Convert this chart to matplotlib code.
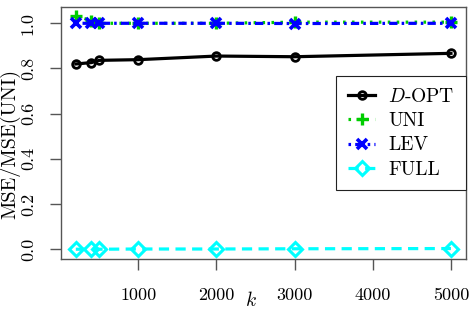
import matplotlib
matplotlib.use("Agg")
import matplotlib.pyplot as plt

k = [200, 400, 500, 1000, 2000, 3000, 5000]
dopt = [0.820, 0.826, 0.836, 0.839, 0.855, 0.852, 0.867]
uni = [1.032, 1.012, 1.0, 1.0, 1.0, 1.005, 1.005]
lev = [1.0, 1.0, 1.0, 1.0, 1.0, 0.999, 1.0]
full = [0.0, 0.0, 0.0, 0.001, 0.001, 0.002, 0.003]
xticks = [1000, 2000, 3000, 4000, 5000]
yticks = [0.0, 0.2, 0.4, 0.6, 0.8, 1.0]
ytick_labels = ["0.0", "0.2", "0.4", "0.6", "0.8", "1.0"]

plt.rcParams['font.family'] = ['cmr10', 'DejaVu Serif']
plt.rcParams['mathtext.fontset'] = 'cm'
plt.rcParams['axes.unicode_minus'] = False
plt.rcParams['font.size'] = 13

fig = plt.figure(figsize=(4.75, 3.09), dpi=100)
ax = fig.add_axes([0.128, 0.162, 0.853, 0.816])

lw = 2.3
ax.plot(k, dopt, color='black', lw=lw, ls='-', marker='o', ms=5.5, mew=2.0,
        mfc='none', label=r'$D$-OPT')
ax.plot(k, uni, color='#00CD00', lw=lw, dashes=(0.8, 2.0), marker='+', ms=9, mew=2.4,
        label='UNI')
ax.plot(k, lev, color='#0000FF', lw=lw, dashes=(0.8, 1.3, 2.6, 1.3), marker='x', ms=7,
        mew=2.6, label='LEV')
ax.plot(k, full, color='#00FFFF', lw=lw, dashes=(3.2, 2.0), marker='D', ms=7, mew=2.2,
        mfc='none', label='FULL')

ax.set_xlim(8, 5192)
ax.set_ylim(-0.043, 1.073)
ax.set_xticks(xticks)
ax.set_xticklabels([str(t) for t in xticks])
ax.set_yticks(yticks)
ax.set_yticklabels(ytick_labels, rotation=90, va='center')

for s in ax.spines.values():
    s.set_color('#555555')
    s.set_linewidth(1.0)
ax.tick_params(axis='both', direction='out', length=8, width=1.0, color='#555555')
ax.tick_params(axis='x', pad=13)
ax.tick_params(axis='y', pad=10)

fig.text(10 / 475, 1 - 144 / 309, 'MSE/MSE(UNI)', rotation=90, ha='center', va='center',
         fontsize=14.5)
ax.text(0.47, -0.165, r'$k$', transform=ax.transAxes, ha='center', va='center', fontsize=14)

leg = ax.legend(loc='upper right', bbox_to_anchor=(1.0, 0.725), borderaxespad=0,
                fancybox=False, edgecolor='#222222', framealpha=1, handlelength=1.4,
                handletextpad=0.65, labelspacing=0.33, borderpad=0.6, prop={'size': 14})
leg.get_frame().set_linewidth(0.8)

fig.savefig('out.png', dpi=100)
